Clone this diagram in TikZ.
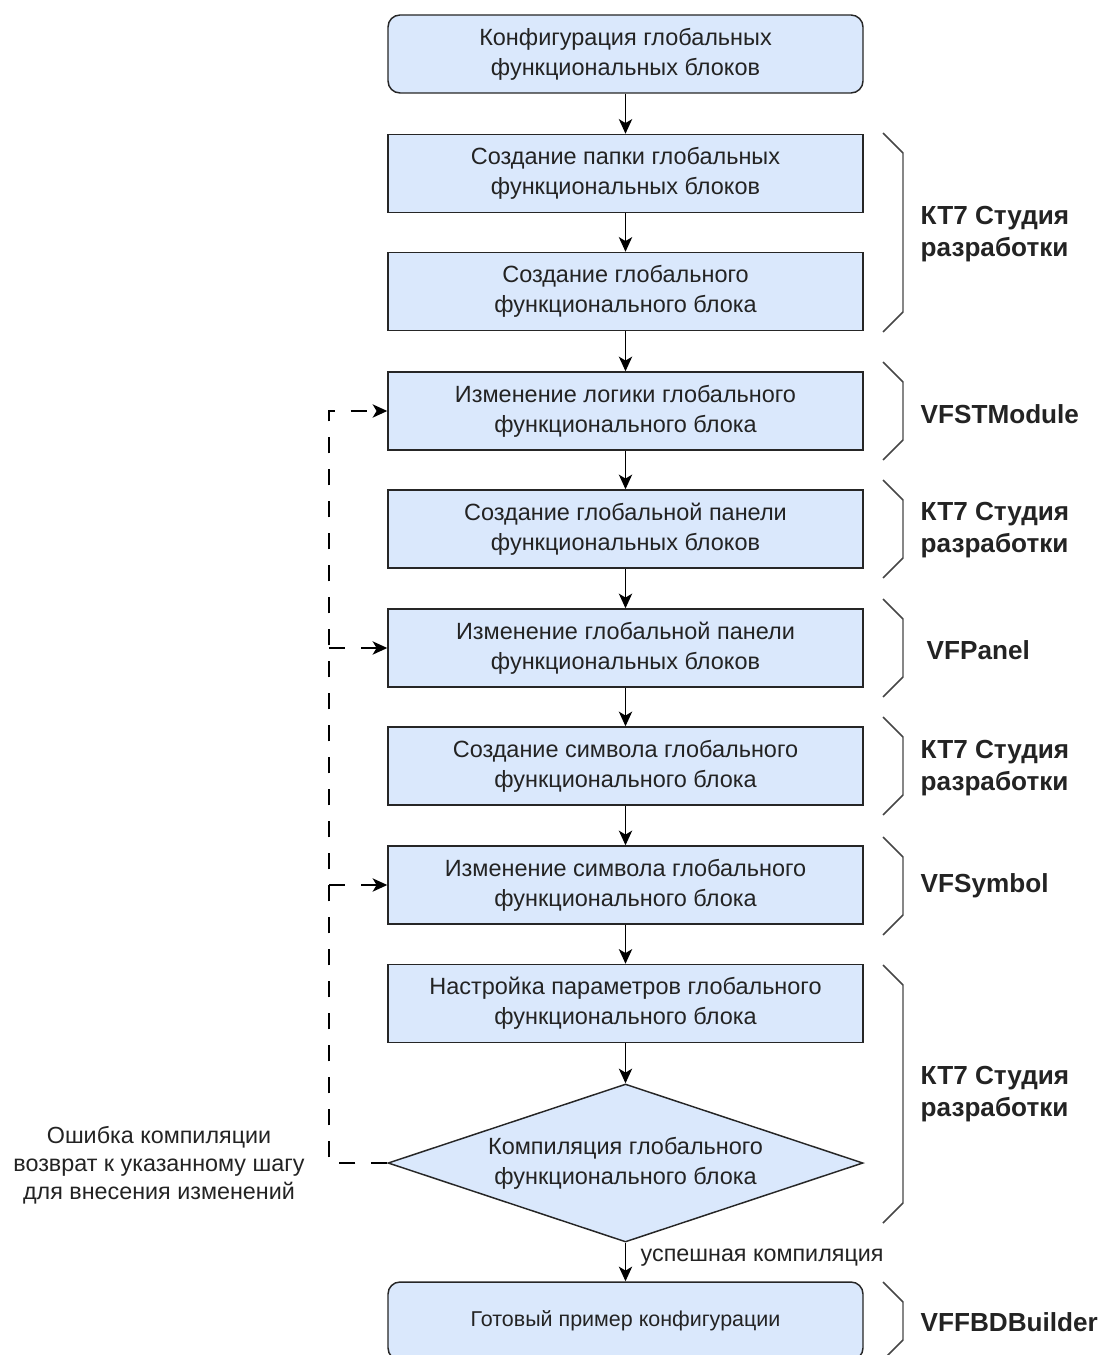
\documentclass[tikz,border=0pt]{standalone}
\usepackage{fontspec}
\setmainfont{Liberation Sans}
\usetikzlibrary{arrows.meta,shapes.geometric}
\definecolor{boxfill}{RGB}{218,232,252}
\definecolor{txt}{RGB}{35,35,35}
\definecolor{brc}{RGB}{70,70,70}
\begin{document}
\begin{tikzpicture}[x=0.75pt,y=-0.75pt,
  box/.style={draw=black!85, fill=boxfill, line width=1.1pt, minimum width=356.25pt, minimum height=58.5pt, inner sep=0pt, align=center, text=txt, font=\fontsize{17.6}{22.5}\selectfont},
  rbox/.style={box, rounded corners=9pt},
  flow/.style={line width=1.1pt, draw=black, -{Stealth[length=11pt,width=10pt,inset=3pt]}},
  back/.style={flow, dash pattern=on 12pt off 12pt},
  bracket/.style={draw=brc, line width=1.1pt},
  lab/.style={anchor=west, align=left, font=\bfseries\fontsize{19.6}{24}\selectfont, text=txt},
  note/.style={align=center, text=txt, font=\fontsize{17.5}{21}\selectfont}
]
\path[use as bounding box] (0,0) rectangle (1102,1355);

\node[rbox] (b1) at (625.5,54) {Конфигурация глобальных\\функциональных блоков};
\node[box] (b2) at (625.5,173.5) {Создание папки глобальных\\функциональных блоков};
\node[box] (b3) at (625.5,291.5) {Создание глобального\\функционального блока};
\node[box] (b4) at (625.5,411) {Изменение логики глобального\\функционального блока};
\node[box] (b5) at (625.5,529) {Создание глобальной панели\\функциональных блоков};
\node[box] (b6) at (625.5,648) {Изменение глобальной панели\\функциональных блоков};
\node[box] (b7) at (625.5,766) {Создание символа глобального\\функционального блока};
\node[box] (b8) at (625.5,885) {Изменение символа глобального\\функционального блока};
\node[box] (b9) at (625.5,1003.5) {Настройка параметров глобального\\функционального блока};
\node[diamond, draw=black!85, fill=boxfill, line width=1.1pt, minimum width=356.25pt, minimum height=118.5pt, inner sep=0pt] (d) at (625.5,1163) {};
\node[align=center, text=txt, font=\fontsize{17.6}{22.5}\selectfont] (dt) at (d.center) {Компиляция глобального\\функционального блока};
\node[rbox, font=\fontsize{16.1}{19}\selectfont] (b11) at (625.5,1321) {Готовый пример конфигурации};

\draw[flow] (b1) -- (b2);
\draw[flow] (b2) -- (b3);
\draw[flow] (b3) -- (b4);
\draw[flow] (b4) -- (b5);
\draw[flow] (b5) -- (b6);
\draw[flow] (b6) -- (b7);
\draw[flow] (b7) -- (b8);
\draw[flow] (b8) -- (b9);
\draw[flow] (b9) -- (d);
\draw[flow] (d) -- (b11);
\node[note, anchor=west] (ok) at (636,1258) {успешная компиляция};

\coordinate (lc) at (329,1163);
\coordinate (j6) at (329,648);
\coordinate (j8) at (329,885);
\draw[back] (d.west) -- (lc) |- (b4.west);
\draw[back] (j6) -- (b6.west);
\draw[back] (j8) -- (b8.west);
\node[note] (err) at (159,1165) {Ошибка компиляции\\возврат к указанному шагу\\для внесения изменений};

\draw[bracket] (883,133) -- (903,153) -- (903,312) -- (883,332);
\draw[bracket] (883,362) -- (903,382) -- (903,440) -- (883,460);
\draw[bracket] (883,480) -- (903,500) -- (903,558) -- (883,578);
\draw[bracket] (883,599) -- (903,619) -- (903,677) -- (883,697);
\draw[bracket] (883,717) -- (903,737) -- (903,795) -- (883,815);
\draw[bracket] (883,837) -- (903,857) -- (903,915) -- (883,935);
\draw[bracket] (883,965) -- (903,985) -- (903,1203) -- (883,1223);
\draw[bracket] (883,1282) -- (903,1302) -- (903,1340) -- (883,1360);

\node[lab] (l1) at (916,234) {КТ7 Студия\\разработки};
\node[lab] (l2) at (916,414) {VFSTModule};
\node[lab] (l3) at (916,530) {КТ7 Студия\\разработки};
\node[lab] (l4) at (922,650) {VFPanel};
\node[lab] (l5) at (916,768) {КТ7 Студия\\разработки};
\node[lab] (l6) at (916,886) {VFSymbol};
\node[lab] (l7) at (916,1094) {КТ7 Студия\\разработки};
\node[lab] (l8) at (916,1322) {VFFBDBuilder};
\end{tikzpicture}
\end{document}
